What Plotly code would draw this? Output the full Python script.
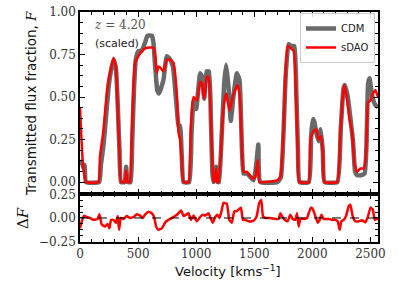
import plotly.graph_objects as go
from plotly.subplots import make_subplots

# ---------------- data ----------------
v_cdm = [0, 15, 30, 40, 52, 165, 180, 201, 220, 245, 265, 290, 310, 325, 340, 353, 385, 397, 410, 435,
         450, 465, 480, 503, 530, 560, 580, 620, 632, 647, 665, 680, 718, 747, 776, 800, 825, 850, 862,
         876, 891, 940, 960, 977, 1000, 1034, 1050, 1069, 1090, 1110, 1127, 1140, 1149, 1172, 1185,
         1196, 1220, 1241, 1258, 1278, 1298, 1320, 1350, 1373, 1394, 1408, 1437, 1465, 1495, 1515,
         1535, 1552, 1700, 1730, 1755, 1770, 1795, 1820, 1845, 1862, 1876, 1890, 1970, 1990, 2005,
         2018, 2034, 2054, 2072, 2090, 2105, 2215, 2245, 2268, 2280, 2305, 2330, 2350, 2368, 2385,
         2420, 2450, 2465, 2480, 2492, 2505, 2525, 2545, 2565]
f_cdm = [0.10, 0.12, 0.08, 0.10, 0.0, 0.0, 0.10, 0.21, 0.35, 0.55, 0.65, 0.72, 0.66, 0.45, 0.18, 0.0,
         0.0, 0.09, 0.0, 0.0, 0.25, 0.55, 0.72, 0.77, 0.77, 0.82, 0.86, 0.86, 0.82, 0.68, 0.54, 0.52,
         0.60, 0.74, 0.72, 0.68, 0.50, 0.32, 0.33, 0.15, 0.0, 0.0, 0.28, 0.48, 0.43, 0.64, 0.62, 0.49,
         0.65, 0.65, 0.36, 0.05, 0.0, 0.09, 0.0, 0.0, 0.28, 0.58, 0.69, 0.56, 0.36, 0.50, 0.64, 0.60,
         0.19, 0.05, 0.05, 0.03, 0.01, 0.09, 0.22, 0.0, 0.0, 0.03, 0.35, 0.62, 0.81, 0.80, 0.80, 0.52,
         0.19, 0.0, 0.0, 0.28, 0.37, 0.35, 0.29, 0.24, 0.31, 0.18, 0.0, 0.0, 0.32, 0.55, 0.57, 0.50,
         0.36, 0.24, 0.06, 0.04, 0.04, 0.05, 0.20, 0.58, 0.61, 0.55, 0.48, 0.45, 0.44]

v_sdao = [0, 23, 52, 158, 172, 201, 230, 245, 259, 287, 310, 322, 339, 353, 385, 397, 410, 430, 445,
          460, 474, 503, 532, 575, 632, 647, 661, 675, 695, 718, 747, 776, 805, 833, 848, 862, 876,
          891, 934, 954, 977, 1006, 1034, 1050, 1069, 1092, 1106, 1121, 1135, 1149, 1160, 1172, 1182,
          1192, 1213, 1235, 1258, 1287, 1313, 1356, 1373, 1394, 1408, 1437, 1460, 1488, 1509, 1529,
          1546, 1695, 1724, 1753, 1767, 1787, 1810, 1839, 1859, 1873, 1888, 1968, 1983, 2011, 2034,
          2054, 2075, 2092, 2103, 2212, 2241, 2264, 2276, 2299, 2322, 2342, 2362, 2385, 2414, 2442,
          2462, 2480, 2500, 2520, 2543, 2565]
f_sdao = [0.44, 0.13, 0.0, 0.0, 0.15, 0.30, 0.52, 0.60, 0.64, 0.73, 0.68, 0.48, 0.19, 0.0, 0.0, 0.07,
          0.0, 0.0, 0.25, 0.56, 0.70, 0.74, 0.77, 0.79, 0.79, 0.74, 0.64, 0.68, 0.67, 0.65, 0.72, 0.72,
          0.70, 0.52, 0.29, 0.25, 0.13, 0.0, 0.0, 0.32, 0.50, 0.48, 0.59, 0.58, 0.49, 0.62, 0.62, 0.48,
          0.19, 0.01, 0.0, 0.08, 0.0, 0.0, 0.19, 0.44, 0.52, 0.42, 0.50, 0.57, 0.52, 0.19, 0.06, 0.06,
          0.04, 0.02, 0.03, 0.13, 0.0, 0.01, 0.03, 0.32, 0.60, 0.80, 0.79, 0.77, 0.52, 0.19, 0.0, 0.0,
          0.25, 0.30, 0.31, 0.25, 0.27, 0.15, 0.0, 0.0, 0.29, 0.52, 0.57, 0.48, 0.36, 0.29, 0.11, 0.06,
          0.08, 0.08, 0.17, 0.47, 0.48, 0.52, 0.54, 0.50]

v_df = [0, 12, 34, 57, 86, 115, 152, 167, 187, 216, 236, 253, 267, 287, 310, 325, 336, 351, 374, 402,
        431, 460, 489, 517, 540, 560, 589, 618, 638, 655, 675, 704, 733, 761, 790, 819, 848, 871, 891,
        914, 934, 954, 977, 1006, 1034, 1057, 1078, 1106, 1127, 1144, 1164, 1184, 1201, 1221, 1235,
        1264, 1285, 1307, 1328, 1345, 1365, 1385, 1402, 1422, 1451, 1480, 1502, 1521, 1543, 1560, 1575,
        1595, 1638, 1681, 1710, 1724, 1738, 1767, 1787, 1810, 1830, 1853, 1868, 1882, 1897, 1925, 1954,
        1968, 1988, 2005, 2026, 2046, 2063, 2078, 2097, 2140, 2169, 2198, 2218, 2235, 2250, 2270, 2290,
        2313, 2327, 2347, 2370, 2399, 2428, 2457, 2480, 2500, 2520, 2537, 2557, 2565]
d_f = [-0.11, -0.05, 0.025, 0.01, 0.0, -0.02, -0.01, 0.04, -0.07, -0.09, -0.065, -0.11, -0.02, -0.02,
       -0.05, 0.02, -0.125, 0.0, -0.01, 0.02, 0.0, 0.01, 0.04, 0.025, 0.0, 0.035, 0.065, 0.05, 0.01,
       -0.09, -0.125, -0.11, -0.05, -0.02, 0.0, 0.02, 0.05, 0.08, 0.02, 0.035, 0.05, -0.02, 0.025,
       -0.035, 0.01, 0.035, 0.025, 0.05, -0.01, -0.05, 0.01, 0.035, 0.0, 0.09, 0.16, 0.15, -0.02, -0.05,
       0.07, 0.07, 0.09, 0.11, -0.02, -0.02, -0.035, -0.035, -0.02, 0.02, 0.16, 0.19, 0.02, 0.0, 0.0,
       -0.01, -0.01, 0.05, 0.02, -0.025, -0.035, 0.035, -0.01, -0.02, 0.05, -0.09, -0.01, -0.01, 0.0,
       0.05, 0.11, 0.09, 0.02, -0.05, -0.02, 0.035, -0.01, -0.01, -0.02, -0.02, -0.035, -0.125, -0.035,
       -0.02, 0.02, 0.125, 0.14, 0.02, -0.035, -0.035, -0.025, -0.045, 0.02, 0.11, 0.09, -0.02, -0.01,
       -0.01]

x_ticks = [0, 500, 1000, 1500, 2000, 2500]
top_y_ticks = [0.0, 0.25, 0.5, 0.75, 1.0]
top_y_labels = ["0.00", "0.25", "0.50", "0.75", "1.00"]
bot_y_ticks = [-0.25, 0.0, 0.25]
bot_y_labels = ["\u22120.25", "0.00", "0.25"]

# ---------------- figure ----------------
W, H = 399, 285
L, R, T, B = 80, 21, 12, 43

fig = make_subplots(rows=2, cols=1, shared_xaxes=True, vertical_spacing=0,
                    row_heights=[0.791, 0.209])

fig.add_trace(go.Scatter(x=v_cdm, y=f_cdm, mode="lines", name="CDM",
                         line=dict(color="#696969", width=4.5, shape="spline", smoothing=0.4)),
              row=1, col=1)
fig.add_trace(go.Scatter(x=v_sdao, y=f_sdao, mode="lines", name="sDAO",
                         line=dict(color="#ff0000", width=2.5, shape="spline", smoothing=0.4)),
              row=1, col=1)
fig.add_trace(go.Scatter(x=v_df, y=d_f, mode="lines", showlegend=False,
                         line=dict(color="#ff0000", width=2.5, shape="spline", smoothing=0.4)),
              row=2, col=1)
fig.add_hline(y=0, line=dict(color="black", width=1, dash="dash"), row=2, col=1)

tickfont = dict(family="DejaVu Serif", size=12, color="#333")
axis_common = dict(showline=True, linecolor="black", linewidth=1.5, mirror="allticks",
                   ticks="inside", ticklen=5, tickwidth=1.2, tickcolor="black",
                   showgrid=False, zeroline=False, tickfont=tickfont, automargin=False,
                   ticklabeloverflow="allow")

fig.update_xaxes(range=[0, 2565], tickvals=x_ticks,
                 minor=dict(dtick=100, tick0=0, ticks="inside", ticklen=3, tickcolor="black"),
                 **axis_common)
fig.update_xaxes(showticklabels=False, row=1, col=1)
fig.update_xaxes(showticklabels=True, row=2, col=1)

fig.update_yaxes(range=[-0.07, 1.0], tickvals=top_y_ticks, ticktext=top_y_labels,
                 minor=dict(dtick=0.0625, tick0=0, ticks="inside", ticklen=3, tickcolor="black"),
                 row=1, col=1, **axis_common)
fig.update_yaxes(range=[-0.255, 0.255], tickvals=bot_y_ticks, ticktext=bot_y_labels,
                 minor=dict(dtick=0.0625, tick0=0, ticks="inside", ticklen=3, tickcolor="black"),
                 row=2, col=1, **axis_common)

pw = W - L - R
ph = H - T - B


def px(xp):
    return (xp - L) / pw


def py(yp):
    return (H - B - yp) / ph


ann = []
ann.append(dict(text="Transmitted flux fraction, <span style='font-family:DejaVu Serif'><i>F</i></span>",
                x=px(31), y=py(103), textangle=-90, showarrow=False, xref="paper", yref="paper",
                xanchor="center", yanchor="middle",
                font=dict(family="DejaVu Sans", size=13.5, color="#111")))
ann.append(dict(text="\u0394<i>F</i>", x=px(23), y=py(218), textangle=-90, showarrow=False,
                xref="paper", yref="paper", xanchor="center", yanchor="middle",
                font=dict(family="DejaVu Serif", size=15, color="#111")))
ann.append(dict(text="Velocity [kms<sup>\u22121</sup>]", x=px(228), y=py(271), showarrow=False,
                xref="paper", yref="paper", xanchor="center", yanchor="middle",
                font=dict(family="DejaVu Sans", size=13, color="#111")))
ann.append(dict(text="<i>z</i> = 4.20", x=px(92), y=py(25), showarrow=False,
                xref="paper", yref="paper", xanchor="left", yanchor="middle",
                font=dict(family="DejaVu Serif", size=12, color="#555")))
ann.append(dict(text="(scaled)", x=px(93), y=py(44), showarrow=False,
                xref="paper", yref="paper", xanchor="left", yanchor="middle",
                font=dict(family="DejaVu Sans", size=11, color="#222")))

fig.update_layout(
    width=W, height=H,
    margin=dict(l=L, r=R, t=T, b=B),
    paper_bgcolor="white", plot_bgcolor="white",
    annotations=ann,
    legend=dict(x=px(375), y=py(13), xanchor="right", yanchor="top",
                bgcolor="rgba(255,255,255,0.85)", bordercolor="#cccccc", borderwidth=1,
                font=dict(family="DejaVu Sans", size=10, color="#222"),
                itemwidth=30, tracegroupgap=0),
)

# remove the default page margin so the figure sits at the window's corner
fig.write_html("out.html", config={"displayModeBar": False},
               post_script="document.body.style.margin='0px';document.body.style.overflow='hidden';")
